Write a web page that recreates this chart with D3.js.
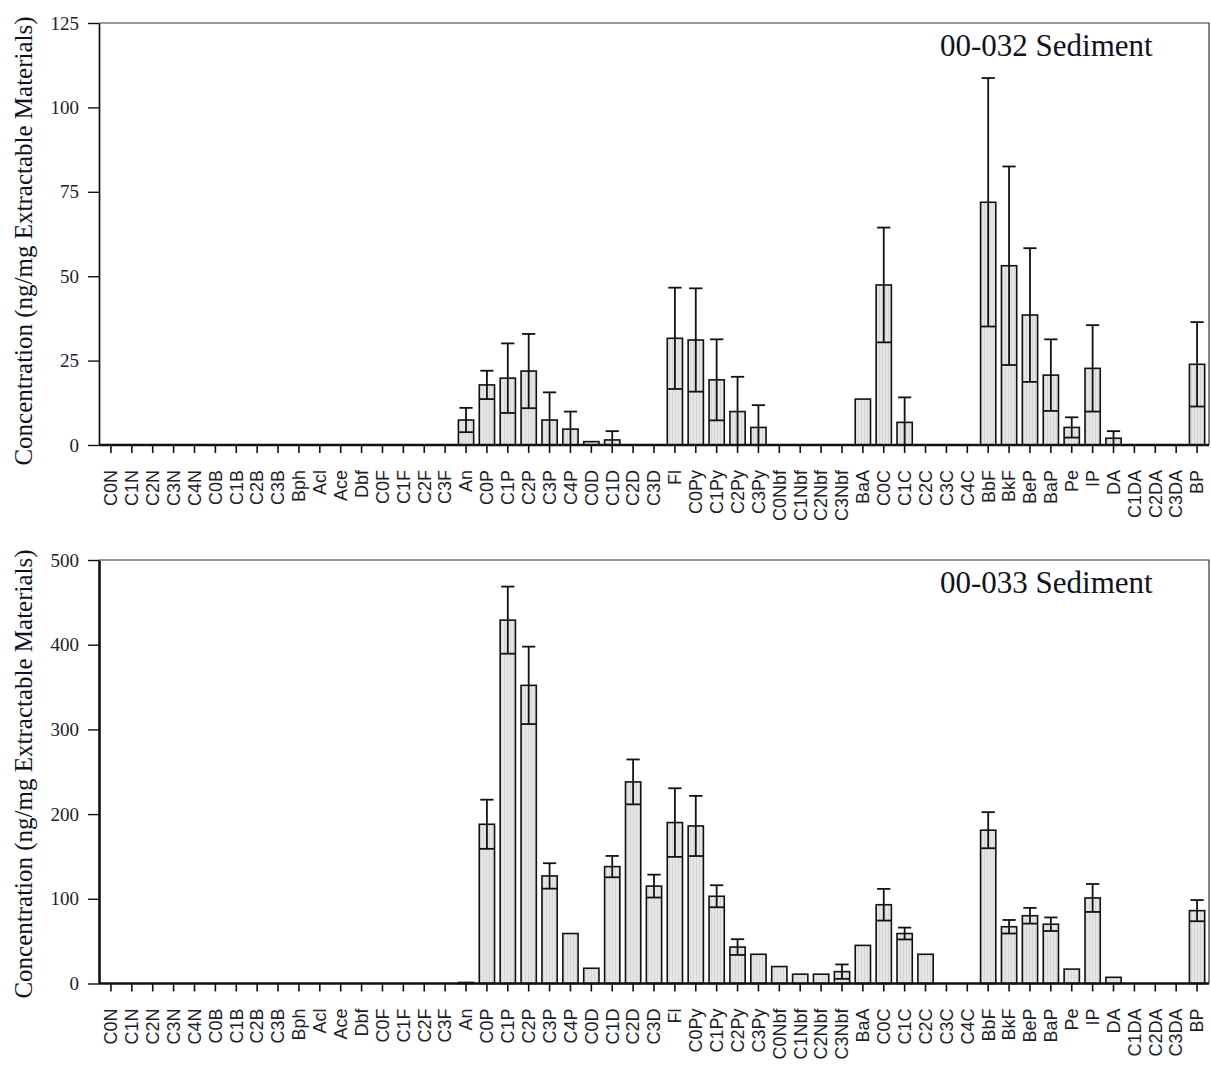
<!DOCTYPE html>
<html>
<head>
<meta charset="utf-8">
<script src="https://cdnjs.cloudflare.com/ajax/libs/d3/7.8.5/d3.min.js"></script>
<style>
body { margin: 0; background: #fff; }
svg { display: block; }
</style>
</head>
<body>
<svg id="chart" width="1211" height="1070"></svg>
<script>
// compound names along the x axis
var categories = ["C0N", "C1N", "C2N", "C3N", "C4N", "C0B", "C1B", "C2B", "C3B", "Bph", "Acl", "Ace", "Dbf",
    "C0F", "C1F", "C2F", "C3F", "An", "C0P", "C1P", "C2P", "C3P", "C4P", "C0D", "C1D", "C2D", "C3D", "Fl",
    "C0Py", "C1Py", "C2Py", "C3Py", "C0Nbf", "C1Nbf", "C2Nbf", "C3Nbf", "BaA", "C0C", "C1C", "C2C", "C3C", "C4C",
    "BbF", "BkF", "BeP", "BaP", "Pe", "IP", "DA", "C1DA", "C2DA", "C3DA", "BP"];

// 00-032 sediment: mean and standard deviation (0 = no error bar)
var sed032_values = [0, 0, 0, 0, 0, 0, 0, 0, 0, 0, 0, 0, 0, 0, 0, 0, 0,
    7.4, 17.8, 19.8, 21.9, 7.4, 4.7, 1.0, 1.5, 0, 0, 31.6,
    31.1, 19.3, 9.9, 5.2, 0, 0, 0, 0, 13.6, 47.4, 6.7, 0, 0, 0,
    71.9, 53.1, 38.5, 20.7, 5.2, 22.7, 2.0, 0, 0, 0, 23.9];
var sed032_sd = [0, 0, 0, 0, 0, 0, 0, 0, 0, 0, 0, 0, 0, 0, 0, 0, 0,
    3.6, 4.2, 10.3, 11.0, 8.2, 5.2, 0, 2.6, 0, 0, 15.0,
    15.3, 12.0, 10.3, 6.6, 0, 0, 0, 0, 0, 17.0, 7.4, 0, 0, 0,
    36.8, 29.4, 19.8, 10.6, 3.0, 12.8, 2.1, 0, 0, 0, 12.5];

// 00-033 sediment
var sed033_values = [0, 0, 0, 0, 0, 0, 0, 0, 0, 0, 0, 0, 0, 0, 0, 0, 0,
    1.2, 188, 429, 352, 127, 59, 18, 138, 238, 115, 190,
    186, 103, 43, 34.5, 20, 11, 11, 14, 45, 93, 59, 34.5, 0, 0,
    181, 67, 80, 70, 17, 101, 7.3, 0, 0, 0, 86];
var sed033_sd = [0, 0, 0, 0, 0, 0, 0, 0, 0, 0, 0, 0, 0, 0, 0, 0, 0,
    0, 29, 39.6, 45.7, 15, 0, 0, 12.6, 26.5, 13.5, 40.5,
    35.5, 13, 9.3, 0, 0, 0, 0, 8.5, 0, 18.7, 7, 0, 0, 0,
    21.3, 8, 9.3, 8, 0, 16.5, 0, 0, 0, 0, 12.5];

var ticks032 = [0, 25, 50, 75, 100, 125];
var ticks033 = [0, 100, 200, 300, 400, 500];

var plotLeft = 99, plotRight = 1209;
var svg = d3.select("#chart");

// light grey fill with faint vertical hatching
var pat = svg.append("defs").append("pattern")
    .attr("id", "barfill").attr("patternUnits", "userSpaceOnUse")
    .attr("width", 3).attr("height", 10);
pat.append("rect").attr("width", 3).attr("height", 10).attr("fill", "#e6e6e6");
pat.append("rect").attr("width", 1).attr("height", 10).attr("fill", "#d6d6d6");

var scalex = d3.scaleBand()
    .domain(categories)
    .range([100.5, 1207.5])
    .paddingInner(0.27)
    .paddingOuter(0.135);

build_panel({ top: 23, base: 445, max: 125, ticks: ticks032, values: sed032_values, sd: sed032_sd,
    title: "00-032 Sediment", titleY: 56, ylabelY: 241, axisW: 1.7 });
build_panel({ top: 560, base: 983.5, max: 500, ticks: ticks033, values: sed033_values, sd: sed033_sd,
    title: "00-033 Sediment", titleY: 593, ylabelY: 774, axisW: 2.6 });

function build_panel(p) {
    var scaley = d3.scaleLinear().domain([0, p.max]).range([p.base, p.top]);
    var g = svg.append("g");
    var bw = scalex.bandwidth();

    var data = categories.map(function (c, i) {
        return { name: c, value: p.values[i], sd: p.sd[i] };
    });

    // frame: top and right edges
    g.append("path")
        .attr("d", "M" + plotLeft + "," + p.top + "H" + plotRight + "V" + p.base)
        .attr("fill", "none").attr("stroke", "#333").attr("stroke-width", 1.2);

    // bars
    g.selectAll("rect.bar")
        .data(data.filter(function (d) { return d.value > 0; }))
        .enter().append("rect")
        .attr("class", "bar")
        .attr("x", function (d) { return scalex(d.name); })
        .attr("width", bw)
        .attr("y", function (d) { return scaley(d.value); })
        .attr("height", function (d) { return p.base - scaley(d.value); })
        .attr("fill", "url(#barfill)")
        .attr("stroke", "#111").attr("stroke-width", 1.6);

    // error bars
    var eb = g.selectAll("g.err")
        .data(data.filter(function (d) { return d.sd > 0; }))
        .enter().append("g").attr("class", "err")
        .attr("stroke", "#111").attr("stroke-width", 1.8);
    eb.append("line")
        .attr("x1", function (d) { return scalex(d.name) + bw / 2; })
        .attr("x2", function (d) { return scalex(d.name) + bw / 2; })
        .attr("y1", function (d) { return scaley(Math.max(0, d.value - d.sd)); })
        .attr("y2", function (d) { return scaley(d.value + d.sd); });
    eb.append("line")
        .attr("x1", function (d) { return scalex(d.name) + 1; })
        .attr("x2", function (d) { return scalex(d.name) + bw - 1; })
        .attr("y1", function (d) { return scaley(d.value + d.sd); })
        .attr("y2", function (d) { return scaley(d.value + d.sd); });
    eb.filter(function (d) { return d.value - d.sd > 0; }).append("line")
        .attr("x1", function (d) { return scalex(d.name); })
        .attr("x2", function (d) { return scalex(d.name) + bw; })
        .attr("y1", function (d) { return scaley(d.value - d.sd); })
        .attr("y2", function (d) { return scaley(d.value - d.sd); });

    // x axis
    var xa = g.append("g")
        .attr("transform", "translate(0," + p.base + ")")
        .call(d3.axisBottom(scalex).tickSize(8).tickSizeOuter(0));
    xa.select(".domain").remove();
    xa.selectAll(".tick line").attr("stroke", "#111").attr("stroke-width", 1.6);
    xa.selectAll(".tick text")
        .attr("transform", "rotate(-90)")
        .attr("x", -25).attr("y", 0).attr("dy", "0.35em")
        .style("text-anchor", "end")
        .style("font-family", "'Liberation Sans', Arial, sans-serif")
        .style("font-size", "18px")
        .attr("fill", "#1c1c2a");
    g.append("line")
        .attr("x1", plotLeft).attr("x2", plotRight)
        .attr("y1", p.base).attr("y2", p.base)
        .attr("stroke", "#111").attr("stroke-width", 2.4);

    // y axis
    var ya = g.append("g")
        .attr("transform", "translate(" + plotLeft + ",0)")
        .call(d3.axisLeft(scaley).tickValues(p.ticks).tickSize(11).tickPadding(9).tickSizeOuter(0));
    ya.select(".domain").attr("stroke", "#111").attr("stroke-width", p.axisW);
    ya.selectAll(".tick line").attr("stroke", "#111").attr("stroke-width", 1.4);
    ya.selectAll(".tick text")
        .style("font-family", "'Liberation Serif', 'Times New Roman', serif")
        .style("font-size", "19px")
        .attr("fill", "#1c1c2a");

    // titles
    g.append("text")
        .attr("x", 940).attr("y", p.titleY)
        .style("font-family", "'Liberation Serif', 'Times New Roman', serif")
        .style("font-size", "31px")
        .attr("fill", "#111122")
        .text(p.title);
    g.append("text")
        .attr("transform", "translate(32," + p.ylabelY + ") rotate(-90)")
        .style("text-anchor", "middle")
        .style("font-family", "'Liberation Serif', 'Times New Roman', serif")
        .style("font-size", "25px")
        .attr("fill", "#111122")
        .text("Concentration (ng/mg Extractable Materials)");
}
</script>
</body>
</html>
